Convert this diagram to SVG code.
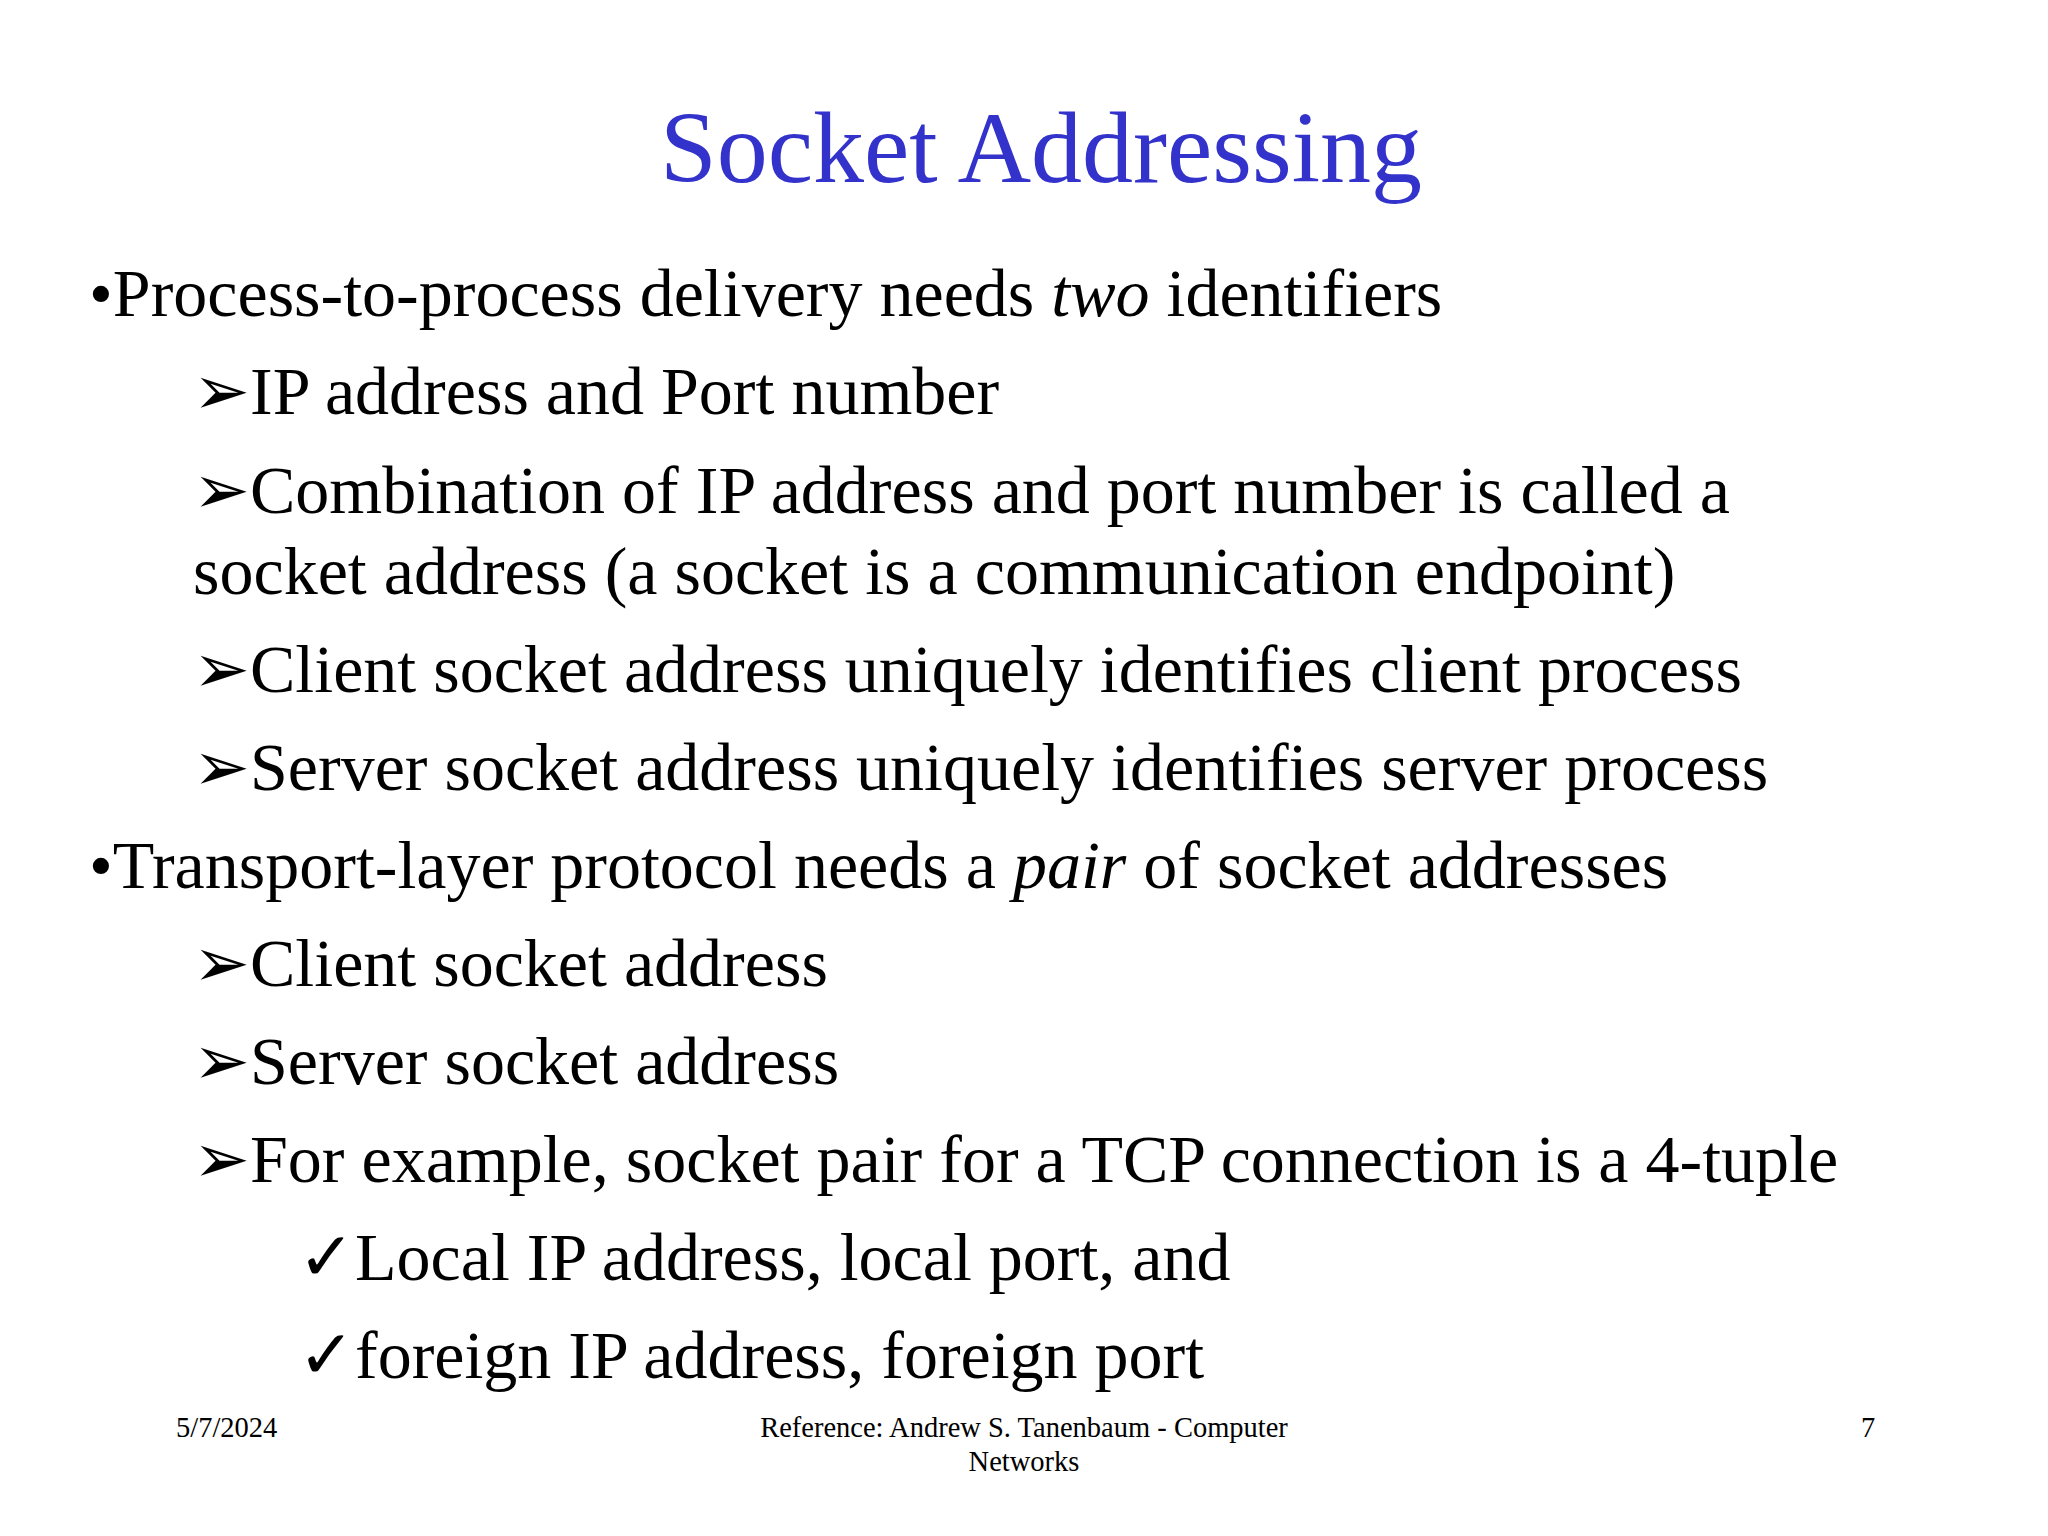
<svg xmlns="http://www.w3.org/2000/svg" width="2048" height="1536" viewBox="0 0 2048 1536">
<style>
text{font-family:"Liberation Serif","Times New Roman",serif;fill:#000}
.t{font-size:102px;fill:#3333cc}
.b{font-size:68px}
.f{font-size:28.5px}
</style>
<rect width="2048" height="1536" fill="#fff"/>
<text class="t" x="1041" y="182" text-anchor="middle">Socket Addressing</text>
<g class="b">
<text class="b" x="89" y="316">•Process-to-process delivery needs <tspan font-style="italic">two</tspan> identifiers</text>
<text class="b" x="193" y="414">➢IP address and Port number</text>
<text class="b" x="193" y="513">➢Combination of IP address and port number is called a</text>
<text class="b" x="193" y="594">socket address (a socket is a communication endpoint)</text>
<text class="b" x="193" y="692">➢Client socket address uniquely identifies client process</text>
<text class="b" x="193" y="790">➢Server socket address uniquely identifies server process</text>
<text class="b" x="89" y="888">•Transport-layer protocol needs a <tspan font-style="italic">pair</tspan> of socket addresses</text>
<text class="b" x="193" y="986">➢Client socket address</text>
<text class="b" x="193" y="1084">➢Server socket address</text>
<text class="b" x="193" y="1182">➢For example, socket pair for a TCP connection is a 4-tuple</text>
<text class="b" x="298" y="1280">✓Local IP address, local port, and</text>
<text class="b" x="298" y="1378">✓foreign IP address, foreign port</text>
</g>
<text class="f" x="176" y="1437">5/7/2024</text>
<text class="f" x="1024" y="1437" text-anchor="middle">Reference: Andrew S. Tanenbaum - Computer</text>
<text class="f" x="1024" y="1471" text-anchor="middle">Networks</text>
<text class="f" x="1868" y="1437" text-anchor="middle">7</text>
</svg>
